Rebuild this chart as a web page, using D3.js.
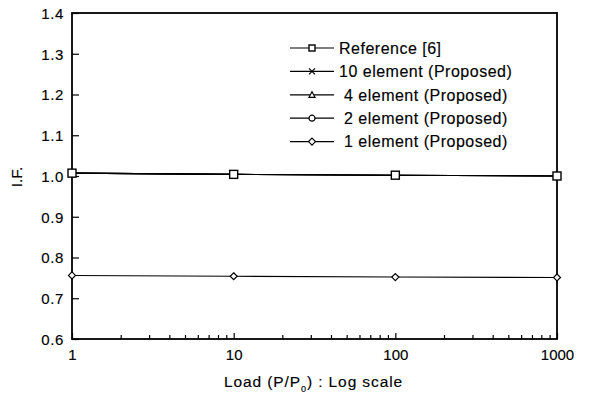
<!DOCTYPE html>
<html>
<head>
<meta charset="utf-8">
<script src="https://cdn.jsdelivr.net/npm/d3@7"></script>
<style>
  html, body { margin: 0; padding: 0; background: #fff; }
  svg { display: block; font-family: "Liberation Sans", Arial, Helvetica, sans-serif; }
  svg text { stroke: #000; stroke-width: 0.15px; }
</style>
</head>
<body>
<svg id="chart" width="589" height="400"></svg>
<script>
// Load levels (P/P0), log scale
const loads = [1, 10, 100, 1000];

// Influence factor for each model
const referenceIF = [1.007, 1.004, 1.002, 1.000];
const tenElementIF = [1.007, 1.004, 1.002, 1.000];
const fourElementIF = [1.007, 1.004, 1.002, 1.000];
const twoElementIF = [1.007, 1.004, 1.002, 1.000];
const oneElementIF = [0.756, 0.754, 0.752, 0.751];

const seriesNames = [
  "Reference [6]",
  "10 element (Proposed)",
  " 4 element (Proposed)",
  " 2 element (Proposed)",
  " 1 element (Proposed)"
];
const seriesSymbols = ["square", "cross", "triangle", "circle", "diamond"];
const seriesValues = [referenceIF, tenElementIF, fourElementIF, twoElementIF, oneElementIF];

const yTicks = [0.6, 0.7, 0.8, 0.9, 1.0, 1.1, 1.2, 1.3, 1.4];
const xTicks = [1, 10, 100, 1000];

const svg = d3.select("#chart");
const plotL = 72, plotR = 557, plotT = 13, plotB = 339;

const x = d3.scaleLog().domain([1, 1000]).range([plotL, plotR]);
const y = d3.scaleLinear().domain([0.6, 1.4]).range([plotB, plotT]);

// Frame
svg.append("rect")
  .attr("x", plotL).attr("y", plotT)
  .attr("width", plotR - plotL).attr("height", plotB - plotT)
  .attr("fill", "none").attr("stroke", "#000").attr("stroke-width", 1.8);

// Y axis (inward ticks)
const yAxis = d3.axisRight(y).tickValues(yTicks).tickSize(7)
  .tickFormat(d3.format(".1f"));
const gy = svg.append("g").attr("transform", `translate(${plotL},0)`).call(yAxis);
gy.select(".domain").remove();
gy.selectAll(".tick line").attr("stroke", "#000").attr("stroke-width", 1.2);
gy.selectAll(".tick text")
  .attr("x", -8).attr("dy", "0.36em")
  .attr("text-anchor", "end")
  .attr("font-size", 15).attr("letter-spacing", 0.6).attr("fill", "#000");

// X axis: minor ticks inward, labels at decades
const minor = d3.range(0, 3).flatMap(e => d3.range(2, 10).map(m => m * Math.pow(10, e)));
const gxMinor = svg.append("g").attr("transform", `translate(0,${plotB})`)
  .call(d3.axisTop(x).tickValues(minor).tickSize(4).tickFormat(""));
gxMinor.select(".domain").remove();
gxMinor.selectAll(".tick line").attr("stroke", "#000").attr("stroke-width", 1.2);

const gx = svg.append("g").attr("transform", `translate(0,${plotB})`)
  .call(d3.axisTop(x).tickValues(xTicks).tickSize(6).tickFormat(d3.format("d")));
gx.select(".domain").remove();
gx.selectAll(".tick line").attr("stroke", "#000").attr("stroke-width", 1.2);
gx.selectAll(".tick text")
  .attr("y", 21).attr("dy", 0)
  .attr("font-size", 15).attr("fill", "#000");

// Axis titles
const xTitle = svg.append("text")
  .attr("x", (plotL + plotR) / 2 - 1).attr("y", 387)
  .attr("text-anchor", "middle").attr("font-size", 15.5)
  .attr("letter-spacing", 0.9).attr("fill", "#000");
xTitle.append("tspan").text("Load (P/P");
xTitle.append("tspan").attr("font-size", 9).attr("dy", 5).text("0");
xTitle.append("tspan").attr("dy", -5).text(") : Log scale");

svg.append("text")
  .attr("transform", `translate(22,${(plotT + plotB) / 2 + 1}) rotate(-90)`)
  .attr("text-anchor", "middle").attr("font-size", 15.5).attr("fill", "#000")
  .text("I.F.");

// Marker drawing
function marker(g, type, size) {
  const s = size;
  if (type === "square") {
    g.append("rect").attr("x", -s / 2).attr("y", -s / 2).attr("width", s).attr("height", s)
      .attr("fill", "#fff").attr("stroke", "#000").attr("stroke-width", 1.4);
  } else if (type === "cross") {
    g.append("path").attr("d", `M${-s/2},${-s/2}L${s/2},${s/2}M${-s/2},${s/2}L${s/2},${-s/2}`)
      .attr("stroke", "#000").attr("stroke-width", 1.2);
  } else if (type === "triangle") {
    g.append("path").attr("d", `M0,${-s/2}L${s/2},${s/2 - 0.5}L${-s/2},${s/2 - 0.5}Z`)
      .attr("fill", "#fff").attr("stroke", "#000").attr("stroke-width", 1.2);
  } else if (type === "circle") {
    g.append("circle").attr("r", s / 2)
      .attr("fill", "#fff").attr("stroke", "#000").attr("stroke-width", 1.2);
  } else if (type === "diamond") {
    g.append("path").attr("d", `M0,${-s/2 - 0.5}L${s/2 + 0.5},0L0,${s/2 + 0.5}L${-s/2 - 0.5},0Z`)
      .attr("fill", "#fff").attr("stroke", "#000").attr("stroke-width", 1.2);
  }
}

const line = d3.line().x((d, i) => x(loads[i])).y(d => y(d));

// Draw series from the bottom of the legend up so the reference sits on top
for (let k = seriesValues.length - 1; k >= 0; k--) {
  const vals = seriesValues[k];
  svg.append("path").datum(vals)
    .attr("d", line).attr("fill", "none")
    .attr("stroke", "#000").attr("stroke-width", 1.1);
  vals.forEach((v, i) => {
    const g = svg.append("g").attr("transform", `translate(${x(loads[i])},${y(v)})`);
    marker(g, seriesSymbols[k], k === 0 ? 8 : 6);
  });
}

// Legend
const legend = svg.append("g");
seriesNames.forEach((name, k) => {
  const ly = 48 + k * 23.4;
  legend.append("line").attr("x1", 290).attr("x2", 334).attr("y1", ly).attr("y2", ly)
    .attr("stroke", "#000").attr("stroke-width", 1.2);
  const g = legend.append("g").attr("transform", `translate(312,${ly})`);
  marker(g, seriesSymbols[k], 6);
  legend.append("text").attr("x", 339).attr("y", ly).attr("dy", "0.36em")
    .attr("font-size", 16).attr("letter-spacing", 0.5).attr("fill", "#000")
    .style("white-space", "pre")
    .text(name);
});
</script>
</body>
</html>
